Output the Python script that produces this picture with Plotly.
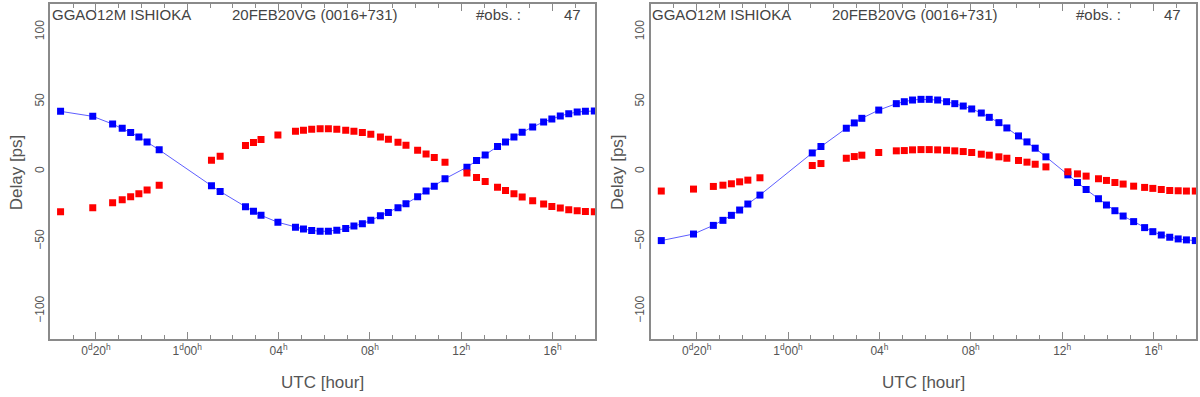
import plotly.graph_objects as go
from plotly.subplots import make_subplots

# UTC hours relative to day 1, 00h (negative values belong to day 0)
hours = [-5.55, -4.14, -3.27, -2.85, -2.48, -2.12, -1.76, -1.23,
         1.06, 1.44, 2.55, 2.90, 3.23, 3.97, 4.74, 5.09, 5.45, 5.82,
         6.18, 6.55, 6.94, 7.30, 7.67, 8.04, 8.46, 8.81, 9.23, 9.58,
         10.09, 10.46, 10.82, 11.29, 12.25, 12.67, 13.05, 13.59, 13.94,
         14.31, 14.67, 15.13, 15.61, 15.97, 16.34, 16.71, 17.08, 17.44, 17.83]

# left panel (ps)
blue_left = [43.1, 39.5, 34.0, 30.9, 27.9, 24.8, 21.2, 15.5,
             -10.2, -14.3, -25.2, -28.4, -31.4, -36.4, -40.0, -41.2, -42.2, -42.8,
             -42.8, -42.1, -40.9, -39.0, -37.4, -35.0, -31.7, -29.3, -26.0, -23.1,
             -18.1, -14.0, -10.5, -5.2, 3.1, 7.9, 11.9, 17.9, 21.2,
             24.8, 28.1, 31.9, 35.5, 37.6, 39.8, 41.4, 42.6, 43.1, 43.3]
red_left = [-28.8, -26.0, -22.4, -20.2, -18.1, -15.9, -13.3, -9.8,
            8.1, 11.0, 18.6, 20.7, 22.9, 26.2, 28.8, 29.5, 30.2, 30.7,
            30.7, 30.3, 29.5, 28.8, 27.9, 26.7, 24.8, 23.1, 20.9, 18.8,
            15.2, 12.6, 10.0, 6.7, -1.0, -4.3, -7.1, -11.2, -13.6,
            -15.9, -18.3, -20.9, -23.3, -25.0, -26.2, -27.4, -28.1, -28.6, -28.8]

# right panel (ps)
blue_right = [-49.5, -44.8, -38.6, -35.0, -31.4, -27.6, -23.3, -16.9,
              13.3, 17.9, 31.0, 34.8, 38.1, 44.0, 48.6, 50.0, 51.2, 51.7,
              51.7, 51.2, 50.0, 48.6, 46.9, 44.8, 41.9, 38.8, 35.0, 31.2,
              25.5, 21.2, 16.7, 10.5, -2.4, -7.9, -12.9, -19.5, -24.0,
              -28.1, -31.9, -35.9, -40.2, -43.1, -45.5, -47.1, -48.3, -49.0, -49.5]
red_right = [-14.0, -12.6, -10.7, -9.8, -8.8, -7.4, -6.2, -4.5,
             4.3, 5.7, 9.5, 10.7, 11.7, 13.6, 14.8, 15.0, 15.5, 15.7,
             15.7, 15.5, 15.2, 14.8, 14.3, 13.6, 12.4, 11.7, 10.5, 9.5,
             7.9, 6.7, 5.2, 3.3, -0.2, -1.7, -3.3, -5.2, -6.4,
             -7.9, -9.0, -10.5, -11.4, -12.1, -12.9, -13.6, -13.8, -14.0, -14.0]

tick_vals = [-4, 0, 4, 8, 12, 16]
tick_text = ["0<sup>d</sup>20<sup>h</sup>", "1<sup>d</sup>00<sup>h</sup>", "04<sup>h</sup>",
             "08<sup>h</sup>", "12<sup>h</sup>", "16<sup>h</sup>"]
y_ticks = [-100, -50, 0, 50, 100]

station = "GGAO12M ISHIOKA"
source = "20FEB20VG (0016+731)"
n_obs = 47

FONT = "Liberation Sans"
GREY = "#555555"
AXIS = "#8a8a8a"

W, H = 1200, 397


def px_x(p):
    return p / W


def px_y(p):
    return 1 - p / H


fig = make_subplots(rows=1, cols=2, horizontal_spacing=0.05)

panels = [(blue_left, red_left), (blue_right, red_right)]
for i, (blue, red) in enumerate(panels, start=1):
    fig.add_trace(go.Scatter(x=hours, y=blue, mode="lines+markers",
                             line=dict(color="rgba(40,40,255,0.75)", width=1),
                             marker=dict(symbol="square", size=7, color="#0000ff"),
                             showlegend=False), row=1, col=i)
    fig.add_trace(go.Scatter(x=hours, y=red, mode="markers",
                             marker=dict(symbol="square", size=7, color="#ff0000"),
                             showlegend=False), row=1, col=i)

# panel positions in pixels (left, right), top and bottom
x_px = [(50.3, 595), (651, 1196)]
top_px, bottom_px = 4, 339

for i in (1, 2):
    x0, x1 = x_px[i - 1]
    fig.update_xaxes(
        row=1, col=i, domain=[px_x(x0), px_x(x1)], range=[-6, 17.86],
        tickvals=tick_vals, ticktext=tick_text, automargin=False,
        ticks="inside", ticklen=7, tickwidth=1, tickcolor=AXIS,
        minor=dict(dtick=1, tick0=0, ticks="inside", ticklen=4, tickcolor=AXIS),
        showline=True, linecolor=AXIS, linewidth=1.5, mirror="ticks",
        showgrid=False, zeroline=False,
        tickfont=dict(family=FONT, size=12, color=GREY),
    )
    fig.update_yaxes(
        row=1, col=i, domain=[px_y(bottom_px), px_y(top_px)], range=[-120, 120],
        tickvals=y_ticks, tickangle=-90, ticks="", automargin=False,
        showline=True, linecolor=AXIS, linewidth=1.5, mirror=True,
        showgrid=False, zeroline=False,
        tickfont=dict(family=FONT, size=12, color=GREY),
    )
    # axis titles
    fig.add_annotation(text="UTC [hour]", xref="paper", yref="paper",
                       x=px_x((x0 + x1) / 2), y=px_y(382),
                       xanchor="center", yanchor="middle", showarrow=False,
                       font=dict(family=FONT, size=17, color=GREY))
    fig.add_annotation(text="Delay [ps]", xref="paper", yref="paper",
                       x=px_x(x0 - 34), y=px_y(172), textangle=-90,
                       xanchor="center", yanchor="middle", showarrow=False,
                       font=dict(family=FONT, size=17, color=GREY))

# header line inside each panel
for off in (0, 600):
    for txt, px in [(station, 50), (source, 230), ("#obs. :", 474), (str(n_obs), 562)]:
        fig.add_annotation(text=txt, xref="paper", yref="paper",
                           x=px_x(px + off), y=px_y(15),
                           xanchor="left", yanchor="middle", showarrow=False,
                           font=dict(family=FONT, size=15, color="#444444"))

fig.update_layout(
    width=W, height=H,
    margin=dict(l=0, r=0, t=0, b=0),
    paper_bgcolor="white", plot_bgcolor="white",
)

# drop the default body margin so the figure fills the window exactly
fig.write_html("out.html", config={"displayModeBar": False},
               post_script="document.body.style.margin='0';document.body.style.overflow='hidden';")
